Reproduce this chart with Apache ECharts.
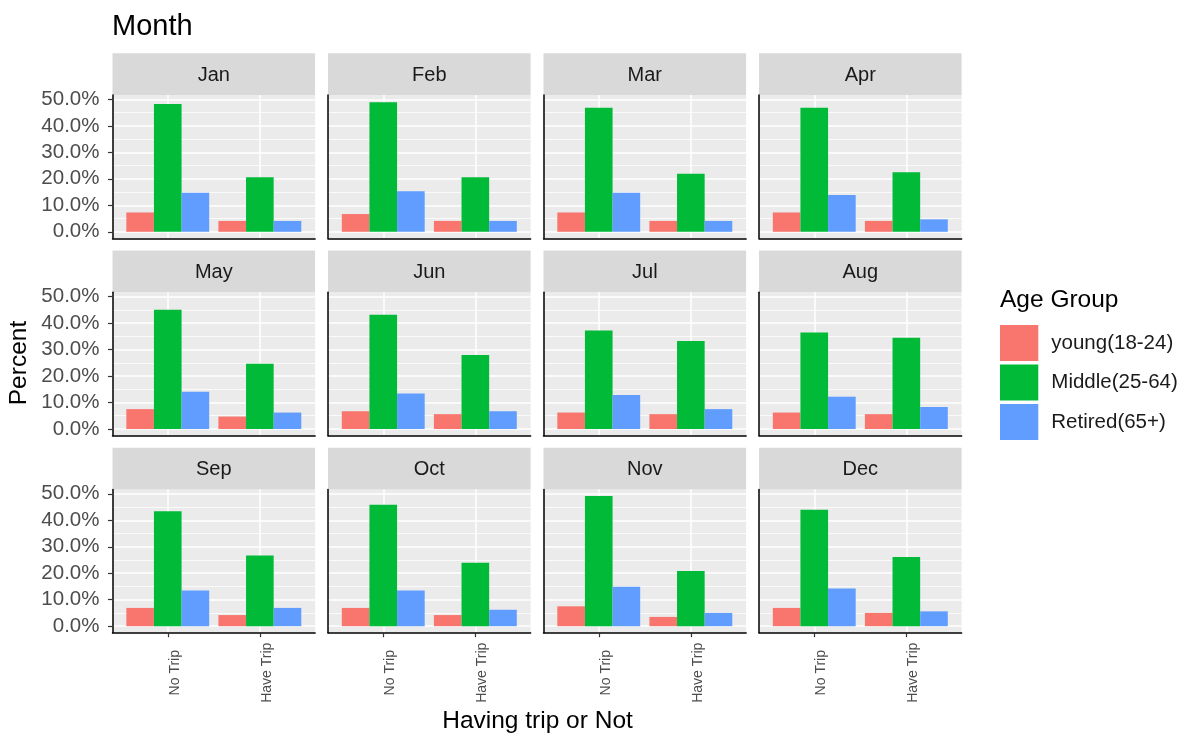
<!DOCTYPE html>
<html>
<head>
<meta charset="utf-8">
<script src="https://cdn.jsdelivr.net/npm/echarts@6/dist/echarts.min.js"></script>
<style>
  html, body { margin: 0; padding: 0; background: #ffffff; }
  #chart { width: 1185px; height: 736px; }
</style>
</head>
<body>
<div id="chart"></div>
<script>
// ---- data (percent of respondents per month) ----
const months = ['Jan', 'Feb', 'Mar', 'Apr', 'May', 'Jun', 'Jul', 'Aug', 'Sep', 'Oct', 'Nov', 'Dec'];
const tripCategories = ['No Trip', 'Have Trip'];
const ageGroups = ['young(18-24)', 'Middle(25-64)', 'Retired(65+)'];

const youngNoTrip     = [7.3, 6.7, 7.3, 7.3, 7.5, 6.7, 6.2, 6.2, 6.9, 6.9, 7.5, 6.9];
const youngHaveTrip   = [4.1, 4.1, 4.1, 4.1, 4.7, 5.6, 5.6, 5.6, 4.2, 4.2, 3.5, 5.0];
const middleNoTrip    = [48.3, 48.9, 46.8, 46.8, 45.0, 43.1, 37.2, 36.4, 43.4, 45.9, 49.2, 44.0];
const middleHaveTrip  = [20.6, 20.6, 21.9, 22.5, 24.6, 27.9, 33.2, 34.5, 26.7, 24.0, 20.8, 26.1];
const retiredNoTrip   = [14.7, 15.3, 14.7, 13.9, 14.1, 13.4, 12.8, 12.2, 13.5, 13.5, 14.9, 14.2];
const retiredHaveTrip = [4.1, 4.1, 4.1, 4.7, 6.2, 6.7, 7.5, 8.3, 6.9, 6.2, 5.0, 5.6];

const yMajorTicks = [0, 10, 20, 30, 40, 50];
const yMinorTicks = [5, 15, 25, 35, 45];
const xTickPositions = [1, 2];

// ---- styling ----
const FONT = '"Liberation Sans", Arial, Helvetica, sans-serif';
const fills = ['#F8766D', '#00BA38', '#619CFF'];
const noTrip = [youngNoTrip, middleNoTrip, retiredNoTrip];
const haveTrip = [youngHaveTrip, middleHaveTrip, retiredHaveTrip];

// shared y scale with 5% padding on both ends
const allValues = [].concat(...noTrip, ...haveTrip);
const dataMax = Math.max(...allValues);
const yMin = -0.05 * dataMax;
const yMax = 1.05 * dataMax;

// discrete x scale: two slots, 0.6 slot of padding each side
const xMin = 0.4, xMax = 2.6;

// facet layout (4 columns x 3 rows)
const colLeft = [112.5, 328, 543.5, 759];
const panelW = 202.6;
const rowTop = [53.3, 250.5, 447.7];
const stripH = 41.7;
const plotH = 143.3;
const barWidth = panelW / (xMax - xMin) * 0.3;

const grids = [], xAxes = [], yAxes = [], minorYAxes = [], series = [], graphics = [];

months.forEach((m, p) => {
  const r = Math.floor(p / 4), c = p % 4;
  const left = colLeft[c], top = rowTop[r] + stripH;

  grids.push({
    left: left, top: top, width: panelW, height: plotH,
    show: true, backgroundColor: '#EBEBEB', borderWidth: 0, containLabel: false
  });

  xAxes.push({
    type: 'value', gridIndex: p, min: xMin, max: xMax,
    axisLine: { show: true, onZero: false, lineStyle: { color: '#000000', width: 1.5 } },
    axisTick: { show: r === 2, customValues: xTickPositions, length: 4.5, lineStyle: { color: '#333333', width: 1.2 } },
    axisLabel: {
      show: r === 2, customValues: xTickPositions,
      formatter: v => tripCategories[Math.round(v) - 1],
      rotate: 90, align: 'center', verticalAlign: 'top', margin: 40,
      fontSize: 14, color: '#4D4D4D', fontFamily: FONT
    },
    splitLine: { show: true, lineStyle: { color: '#FFFFFF', width: 1.5 } }
  });

  yAxes.push({
    type: 'value', gridIndex: p, min: yMin, max: yMax, position: 'left',
    axisLine: { show: true, onZero: false, lineStyle: { color: '#000000', width: 1.5 } },
    axisTick: { show: c === 0, customValues: yMajorTicks, length: 4.5, lineStyle: { color: '#333333', width: 1.2 } },
    axisLabel: {
      show: c === 0, customValues: yMajorTicks,
      formatter: v => v.toFixed(1) + '%',
      fontSize: 20.5, color: '#4D4D4D', fontFamily: FONT, margin: 13
    },
    splitLine: { show: true, lineStyle: { color: '#FFFFFF', width: 1.5 } }
  });

  // thinner minor gridlines halfway between the major ones
  minorYAxes.push({
    type: 'value', gridIndex: p, min: yMin, max: yMax, position: 'right',
    axisLine: { show: false },
    axisTick: { show: false, customValues: yMinorTicks },
    axisLabel: { show: false, customValues: yMinorTicks },
    splitLine: { show: true, lineStyle: { color: '#FFFFFF', width: 0.75 } }
  });

  ageGroups.forEach((g, k) => {
    series.push({
      type: 'bar', name: g, xAxisIndex: p, yAxisIndex: p,
      data: [[1, noTrip[k][p]], [2, haveTrip[k][p]]],
      barWidth: barWidth, barGap: '0%',
      itemStyle: { color: fills[k] },
      emphasis: { disabled: true }, silent: true
    });
  });

  // facet strip
  graphics.push({
    type: 'rect', shape: { x: left, y: rowTop[r], width: panelW, height: stripH },
    style: { fill: '#D9D9D9' }, silent: true
  });
  graphics.push({
    type: 'text', x: left + panelW / 2, y: rowTop[r] + stripH / 2 + 1,
    style: { text: m, fill: '#1A1A1A', font: '20px ' + FONT, align: 'center', verticalAlign: 'middle' },
    silent: true
  });
});

// axis titles and legend title
graphics.push({
  type: 'text', x: 537.5, y: 721,
  style: { text: 'Having trip or Not', fill: '#000000', font: '24.5px ' + FONT, align: 'center', verticalAlign: 'middle' },
  silent: true
});
graphics.push({
  type: 'text', x: 19, y: 363, rotation: Math.PI / 2,
  style: { text: 'Percent', fill: '#000000', font: '24.5px ' + FONT, align: 'center', verticalAlign: 'middle' },
  silent: true
});
graphics.push({
  type: 'text', x: 1000, y: 300,
  style: { text: 'Age Group', fill: '#000000', font: '24.5px ' + FONT, align: 'left', verticalAlign: 'middle' },
  silent: true
});

const chart = echarts.init(document.getElementById('chart'), null, { renderer: 'canvas' });
chart.setOption({
  animation: false,
  backgroundColor: '#FFFFFF',
  title: {
    text: 'Month', left: 112, top: 12, padding: 0,
    textStyle: { fontSize: 29, fontWeight: 'normal', color: '#000000', fontFamily: FONT }
  },
  legend: {
    data: ageGroups, orient: 'vertical', left: 1000, top: 325, padding: 0,
    icon: 'rect', itemWidth: 38.3, itemHeight: 36, itemGap: 3.5,
    selectedMode: false,
    textStyle: { fontSize: 20.5, color: '#1A1A1A', fontFamily: FONT, padding: [0, 0, 0, 8] }
  },
  grid: grids,
  xAxis: xAxes,
  yAxis: yAxes.concat(minorYAxes),
  series: series,
  graphic: graphics
});
</script>
</body>
</html>
